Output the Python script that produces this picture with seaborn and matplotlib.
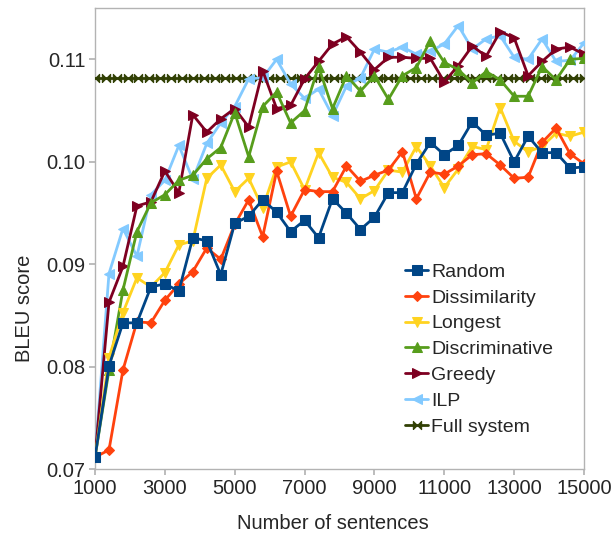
import numpy as np
import pandas as pd
import matplotlib
matplotlib.use("Agg")
import matplotlib.pyplot as plt
import seaborn as sns

sns.set_theme(style="white")
plt.rcParams['font.family'] = ['Liberation Sans', 'DejaVu Sans']

x_values = list(range(1000, 15001, 400))

random_vals = [0.0712, 0.0801, 0.0843, 0.0843, 0.0878, 0.0881, 0.0874, 0.0926, 0.0923, 0.0890,
               0.0940, 0.0947, 0.0963, 0.0951, 0.0932, 0.0943, 0.0926, 0.0964, 0.0950, 0.0934,
               0.0946, 0.0970, 0.0970, 0.0998, 0.1019, 0.1007, 0.1016, 0.1039, 0.1026, 0.1028,
               0.1000, 0.1025, 0.1009, 0.1009, 0.0994, 0.0995]
dissim_vals = [0.0712, 0.0719, 0.0797, 0.0844, 0.0843, 0.0865, 0.0881, 0.0893, 0.0916, 0.0905,
               0.0939, 0.0963, 0.0927, 0.0991, 0.0947, 0.0973, 0.0971, 0.0971, 0.0996, 0.0981,
               0.0987, 0.0992, 0.1010, 0.0964, 0.0990, 0.0988, 0.0996, 0.1007, 0.1008, 0.0997,
               0.0984, 0.0985, 0.1019, 0.1033, 0.1008, 0.0998]
longest_vals = [0.0712, 0.0809, 0.0853, 0.0887, 0.0878, 0.0892, 0.0919, 0.0923, 0.0984, 0.0997,
                0.0971, 0.0984, 0.0955, 0.0995, 0.1000, 0.0973, 0.1009, 0.0985, 0.0980, 0.0964,
                0.0972, 0.0992, 0.0990, 0.1015, 0.0996, 0.0975, 0.0993, 0.1015, 0.1012, 0.1053,
                0.1020, 0.1010, 0.1015, 0.1028, 0.1025, 0.1029]
discrim_vals = [0.0712, 0.0797, 0.0875, 0.0932, 0.0960, 0.0968, 0.0982, 0.0987, 0.1003, 0.1014,
                0.1048, 0.1005, 0.1054, 0.1068, 0.1038, 0.1050, 0.1093, 0.1052, 0.1084, 0.1069,
                0.1084, 0.1061, 0.1084, 0.1092, 0.1118, 0.1097, 0.1090, 0.1077, 0.1088, 0.1080,
                0.1064, 0.1064, 0.1093, 0.1080, 0.1100, 0.1101]
greedy_vals = [0.0712, 0.0863, 0.0898, 0.0957, 0.0961, 0.0991, 0.0970, 0.1046, 0.1029, 0.1042,
               0.1052, 0.1034, 0.1089, 0.1052, 0.1055, 0.1081, 0.1098, 0.1115, 0.1122, 0.1107,
               0.1090, 0.1102, 0.1102, 0.1101, 0.1101, 0.1078, 0.1094, 0.1113, 0.1103, 0.1127,
               0.1121, 0.1084, 0.1098, 0.1110, 0.1112, 0.1105]
ilp_vals = [0.0712, 0.0891, 0.0935, 0.0908, 0.0968, 0.0982, 0.1016, 0.0983, 0.1018, 0.1038,
            0.1054, 0.1081, 0.1082, 0.1100, 0.1076, 0.1062, 0.1071, 0.1045, 0.1074, 0.1082,
            0.1110, 0.1107, 0.1112, 0.1105, 0.1108, 0.1115, 0.1133, 0.1110, 0.1120, 0.1123,
            0.1102, 0.1100, 0.1120, 0.1098, 0.1099, 0.1116]
full_x = list(np.linspace(1000, 15000, 46))
full_vals = [0.1082] * 46

x_ticks = [1000, 3000, 5000, 7000, 9000, 11000, 13000, 15000]
y_ticks = [0.07, 0.08, 0.09, 0.10, 0.11]

bowtie = [(-1, -1), (1, 1), (1, -1), (-1, 1), (-1, -1)]

series = [
    ("Random", x_values, random_vals, "#004586", "s", 6.5),
    ("Dissimilarity", x_values, dissim_vals, "#ff420e", "D", 5),
    ("Longest", x_values, longest_vals, "#ffd320", "v", 7.5),
    ("Discriminative", x_values, discrim_vals, "#579d1c", "^", 7.5),
    ("Greedy", x_values, greedy_vals, "#7e0021", ">", 7.5),
    ("ILP", x_values, ilp_vals, "#83caff", "<", 7.5),
    ("Full system", full_x, full_vals, "#314004", bowtie, 6),
]

FS = 14
FS_AX = 14.5

fig = plt.figure(figsize=(6.11, 5.39), dpi=100)
ax = fig.add_axes([0.1555, 0.129, 0.8003, 0.856])

for z, (name, xs, ys, col, mk, ms) in enumerate(series):
    df = pd.DataFrame({"x": xs, "y": ys})
    sns.lineplot(data=df, x="x", y="y", ax=ax, color=col, marker=mk, markersize=ms,
                 markeredgecolor=col, markerfacecolor=col, linewidth=2.0, label=name,
                 zorder=10 - z if name != "Full system" else 4)

ax.set_xlim(1000, 15000)
ax.set_ylim(0.07, 0.115)
ax.set_xticks(x_ticks)
ax.set_xticklabels([str(t) for t in x_ticks])
ax.set_yticks(y_ticks)
ax.set_yticklabels(["0.07", "0.08", "0.09", "0.10", "0.11"])
ax.tick_params(axis="both", labelsize=FS_AX, length=4, color="#b3b3b3", direction="out",
               left=True, bottom=True, pad=3)
for s in ax.spines.values():
    s.set_color("#b3b3b3")
    s.set_linewidth(1.0)
ax.set_xlabel("Number of sentences", fontsize=FS_AX)
ax.set_ylabel("BLEU score", fontsize=FS_AX)
ax.xaxis.set_label_coords(0.487, -0.118)
ax.xaxis.label.set_va("center")
ax.yaxis.set_label_coords(-0.145, 0.35)
ax.yaxis.label.set_va("center")

leg = ax.legend(loc="upper left", bbox_to_anchor=(0.634, 0.447), frameon=False,
                fontsize=FS, handlelength=1.2, handletextpad=0.15, labelspacing=0.42,
                borderaxespad=0, borderpad=0)

fig.savefig("out.png", dpi=100)
